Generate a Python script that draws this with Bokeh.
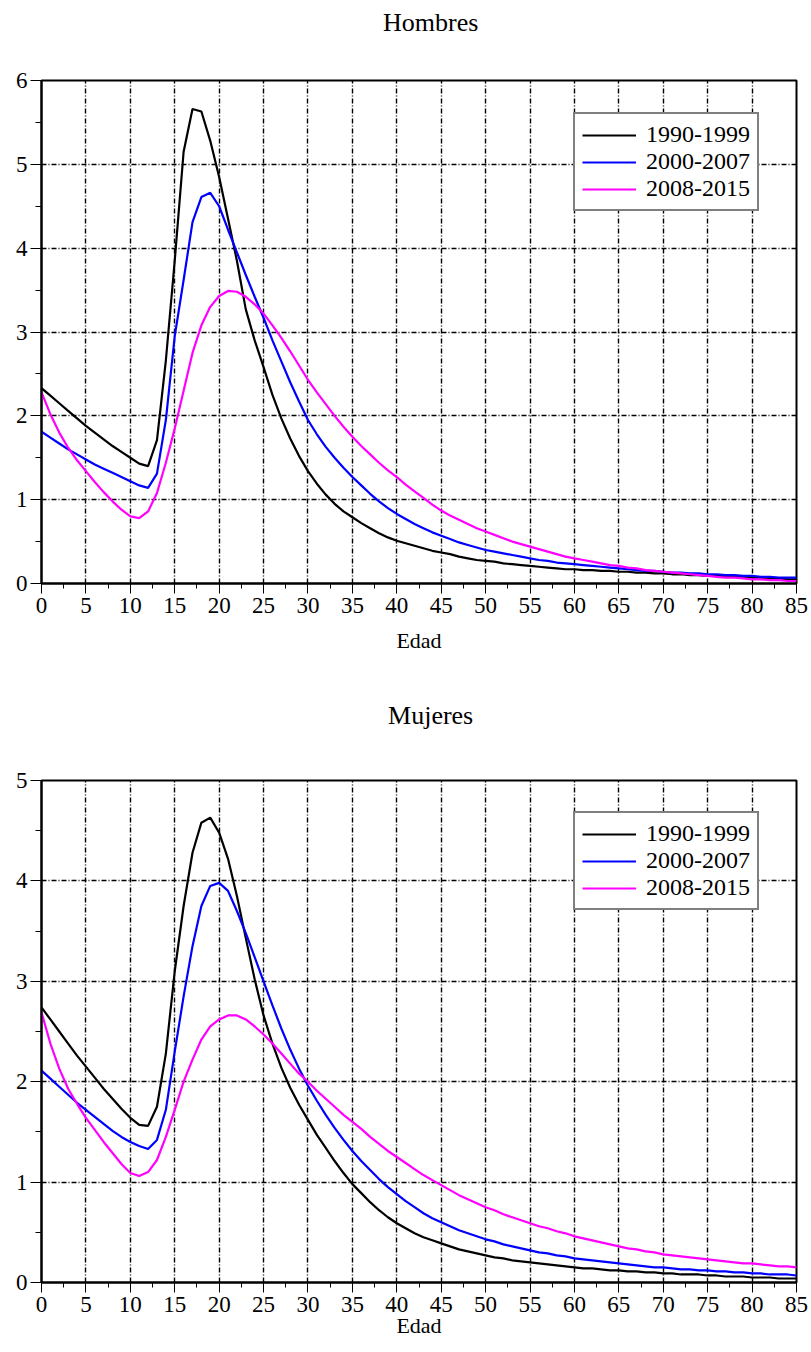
from bokeh.plotting import figure
from bokeh.layouts import column
from bokeh.models import Range1d, SingleIntervalTicker, Legend, LegendItem
from bokeh.core.properties import value
from bokeh.embed import file_html
from bokeh.resources import INLINE

ages = list(range(0, 86))
series_labels = ["1990-1999", "2000-2007", "2008-2015"]
series_colors = ["#000000", "#0000ff", "#ff00ff"]
panel_titles = ["Hombres", "Mujeres"]
x_label = "Edad"

hombres_1990 = [2.33, 2.24, 2.15, 2.06, 1.97, 1.88, 1.80, 1.72, 1.64, 1.57,
                1.50, 1.43, 1.40, 1.71, 2.66, 3.85, 5.15, 5.66, 5.63, 5.28,
                4.85, 4.35, 3.85, 3.27, 2.90, 2.58, 2.25, 1.97, 1.73, 1.52,
                1.34, 1.19, 1.06, 0.95, 0.86, 0.79, 0.72, 0.66, 0.60, 0.55,
                0.51, 0.48, 0.45, 0.42, 0.39, 0.37, 0.35, 0.32, 0.30, 0.28,
                0.27, 0.26, 0.24, 0.23, 0.22, 0.21, 0.20, 0.19, 0.18, 0.17,
                0.17, 0.16, 0.16, 0.15, 0.15, 0.14, 0.14, 0.13, 0.13, 0.12,
                0.12, 0.11, 0.11, 0.10, 0.10, 0.09, 0.09, 0.09, 0.08, 0.08,
                0.07, 0.07, 0.06, 0.06, 0.05, 0.05]
hombres_2000 = [1.81, 1.74, 1.67, 1.60, 1.54, 1.48, 1.42, 1.37, 1.32, 1.27,
                1.22, 1.17, 1.14, 1.31, 1.95, 2.95, 3.62, 4.31, 4.61, 4.66,
                4.50, 4.22, 3.95, 3.68, 3.42, 3.17, 2.90, 2.65, 2.40, 2.17,
                1.95, 1.78, 1.63, 1.50, 1.38, 1.27, 1.17, 1.07, 0.98, 0.90,
                0.83, 0.77, 0.71, 0.66, 0.61, 0.57, 0.53, 0.49, 0.46, 0.43,
                0.40, 0.38, 0.36, 0.34, 0.32, 0.30, 0.28, 0.27, 0.25, 0.24,
                0.23, 0.22, 0.21, 0.20, 0.19, 0.18, 0.17, 0.16, 0.15, 0.15,
                0.14, 0.13, 0.13, 0.12, 0.12, 0.11, 0.11, 0.10, 0.10, 0.09,
                0.09, 0.08, 0.08, 0.07, 0.07, 0.07]
hombres_2008 = [2.28, 2.02, 1.80, 1.62, 1.47, 1.34, 1.21, 1.09, 0.98, 0.88,
                0.80, 0.78, 0.86, 1.08, 1.44, 1.85, 2.30, 2.75, 3.08, 3.30,
                3.43, 3.49, 3.48, 3.42, 3.33, 3.22, 3.08, 2.93, 2.77, 2.60,
                2.43, 2.28, 2.14, 2.00, 1.87, 1.75, 1.64, 1.54, 1.44, 1.35,
                1.27, 1.18, 1.10, 1.02, 0.94, 0.87, 0.81, 0.76, 0.71, 0.66,
                0.62, 0.58, 0.54, 0.50, 0.47, 0.44, 0.41, 0.38, 0.35, 0.32,
                0.30, 0.28, 0.26, 0.24, 0.22, 0.21, 0.19, 0.18, 0.16, 0.15,
                0.14, 0.13, 0.12, 0.11, 0.10, 0.09, 0.08, 0.07, 0.07, 0.06,
                0.05, 0.05, 0.04, 0.04, 0.03, 0.03]

mujeres_1990 = [2.74, 2.62, 2.50, 2.38, 2.26, 2.15, 2.04, 1.93, 1.83, 1.73,
                1.64, 1.57, 1.56, 1.75, 2.28, 3.10, 3.75, 4.28, 4.58, 4.63,
                4.48, 4.22, 3.85, 3.43, 3.02, 2.66, 2.38, 2.14, 1.94, 1.77,
                1.62, 1.47, 1.34, 1.21, 1.09, 0.98, 0.89, 0.80, 0.72, 0.65,
                0.59, 0.54, 0.49, 0.45, 0.42, 0.39, 0.36, 0.33, 0.31, 0.29,
                0.27, 0.25, 0.24, 0.22, 0.21, 0.20, 0.19, 0.18, 0.17, 0.16,
                0.15, 0.14, 0.14, 0.13, 0.12, 0.12, 0.11, 0.11, 0.10, 0.10,
                0.09, 0.09, 0.08, 0.08, 0.08, 0.07, 0.07, 0.06, 0.06, 0.06,
                0.05, 0.05, 0.05, 0.04, 0.04, 0.04]
mujeres_2000 = [2.11, 2.03, 1.95, 1.87, 1.79, 1.72, 1.65, 1.58, 1.51, 1.45,
                1.40, 1.36, 1.33, 1.42, 1.72, 2.30, 2.85, 3.35, 3.75, 3.95,
                3.98, 3.90, 3.70, 3.48, 3.24, 3.00, 2.76, 2.53, 2.32, 2.13,
                1.96, 1.81, 1.67, 1.54, 1.42, 1.31, 1.21, 1.12, 1.03, 0.95,
                0.88, 0.81, 0.75, 0.69, 0.64, 0.60, 0.56, 0.52, 0.49, 0.46,
                0.43, 0.41, 0.38, 0.36, 0.34, 0.32, 0.30, 0.29, 0.27, 0.26,
                0.24, 0.23, 0.22, 0.21, 0.20, 0.19, 0.18, 0.17, 0.16, 0.15,
                0.15, 0.14, 0.13, 0.13, 0.12, 0.12, 0.11, 0.11, 0.10, 0.10,
                0.09, 0.09, 0.08, 0.08, 0.08, 0.07]
mujeres_2008 = [2.69, 2.38, 2.13, 1.93, 1.78, 1.64, 1.52, 1.40, 1.29, 1.18,
                1.09, 1.06, 1.10, 1.22, 1.45, 1.72, 2.00, 2.22, 2.42, 2.55,
                2.62, 2.66, 2.66, 2.62, 2.55, 2.47, 2.38, 2.28, 2.18, 2.08,
                2.00, 1.91, 1.83, 1.75, 1.67, 1.60, 1.53, 1.45, 1.38, 1.31,
                1.25, 1.19, 1.13, 1.07, 1.02, 0.97, 0.92, 0.87, 0.83, 0.79,
                0.75, 0.72, 0.68, 0.65, 0.62, 0.59, 0.56, 0.54, 0.51, 0.49,
                0.46, 0.44, 0.42, 0.40, 0.38, 0.36, 0.34, 0.33, 0.31, 0.30,
                0.28, 0.27, 0.26, 0.25, 0.24, 0.23, 0.22, 0.21, 0.20, 0.19,
                0.19, 0.18, 0.17, 0.16, 0.16, 0.15]

FONT = "Liberation Serif"
PAGE_W = 811


def make_title(text, height, center_from_top):
    t = figure(output_backend="svg", toolbar_location=None,
               width=PAGE_W, height=height,
               min_border=0, x_axis_location=None, y_axis_location=None,
               x_range=Range1d(0, PAGE_W), y_range=Range1d(0, height))
    t.outline_line_color = None
    t.grid.visible = False
    t.background_fill_color = "white"
    t.border_fill_color = "white"
    t.text(x=[418], y=[height - center_from_top], text=[text],
           text_align="center", text_baseline="middle",
           text_font=value(FONT), text_font_size="26px", text_color="black")
    return t


def make_panel(ymax, series, top_border, bottom_border, frame_h, label_standoff):
    p = figure(output_backend="svg", toolbar_location=None,
               frame_width=755, frame_height=frame_h,
               min_border_left=41, min_border_right=15,
               min_border_top=top_border, min_border_bottom=bottom_border,
               x_range=Range1d(0, 85), y_range=Range1d(0, ymax))
    p.background_fill_color = "white"
    p.border_fill_color = "white"
    p.outline_line_color = "black"
    p.outline_line_width = 2

    p.xaxis.ticker = SingleIntervalTicker(interval=5, num_minor_ticks=2)
    p.yaxis.ticker = SingleIntervalTicker(interval=1, num_minor_ticks=2)
    for ax in (p.xaxis, p.yaxis):
        ax.axis_line_color = "black"
        ax.axis_line_width = 2
        ax.major_tick_line_color = "black"
        ax.minor_tick_line_color = "black"
        ax.major_tick_in = 0
        ax.minor_tick_in = 0
        ax.major_label_text_font = FONT
        ax.major_label_text_font_style = "normal"
        ax.major_label_text_font_size = "23px"
        ax.major_label_text_color = "black"
    p.xaxis.major_tick_out = 10
    p.xaxis.minor_tick_out = 5
    p.yaxis.major_tick_out = 11
    p.yaxis.minor_tick_out = 6
    p.xaxis.major_label_standoff = 4
    p.yaxis.major_label_standoff = 3
    p.xaxis.axis_label = x_label
    p.xaxis.axis_label_text_font = FONT
    p.xaxis.axis_label_text_font_size = "22px"
    p.xaxis.axis_label_text_font_style = "normal"
    p.xaxis.axis_label_text_color = "black"
    p.xaxis.axis_label_standoff = label_standoff

    for g in (p.xgrid, p.ygrid):
        g.grid_line_color = "black"
        g.grid_line_width = 1.4
        g.grid_line_dash = "5 2 1 2"
        g.grid_line_alpha = 1.0
    p.xgrid.ticker = p.xaxis.ticker
    p.ygrid.ticker = p.yaxis.ticker

    items = []
    for lbl, col, vals in zip(series_labels, series_colors, series):
        r = p.line(ages, vals, line_color=col, line_width=2.2)
        items.append(LegendItem(label=lbl, renderers=[r]))
    leg = Legend(items=items, location=(532, 372))
    leg.label_text_font = FONT
    leg.label_text_font_style = "normal"
    leg.label_text_font_size = "24px"
    leg.label_text_color = "black"
    leg.label_height = 24
    leg.label_standoff = 10
    leg.glyph_width = 54
    leg.glyph_height = 24
    leg.spacing = 0
    leg.padding = 7
    leg.margin = 0
    leg.border_line_color = "black"
    leg.border_line_width = 2
    leg.background_fill_color = "white"
    leg.background_fill_alpha = 1.0
    p.add_layout(leg, "center")
    return p


t1 = make_title(panel_titles[0], 46, 22)
p1 = make_panel(6, [hombres_1990, hombres_2000, hombres_2008],
                top_border=34, bottom_border=80, frame_h=503, label_standoff=12)
t2 = make_title(panel_titles[1], 70, 52)
p2 = make_panel(5, [mujeres_1990, mujeres_2000, mujeres_2008],
                top_border=47, bottom_border=70, frame_h=502, label_standoff=-2)

layout = column(t1, p1, t2, p2, spacing=0)
open("out.html", "w").write(file_html(layout, INLINE))
